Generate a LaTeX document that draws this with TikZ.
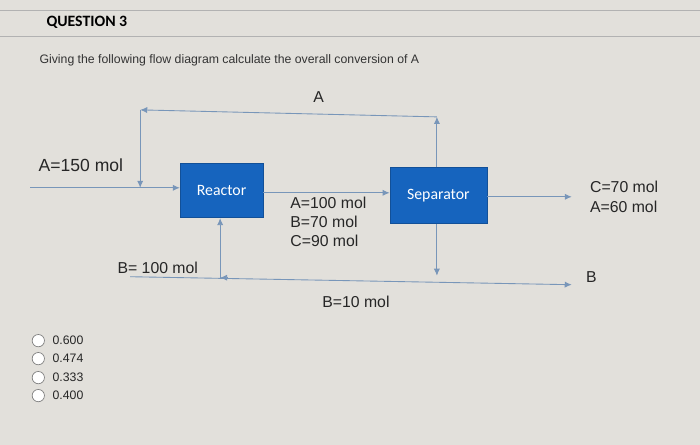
\documentclass[tikz,border=0pt]{standalone}
\usepackage{fontspec}
\setmainfont{Liberation Sans}
\newfontfamily\carlito{Carlito}
\usetikzlibrary{arrows.meta}
\definecolor{bg}{RGB}{226,224,219}
\definecolor{boxc}{RGB}{22,100,190}
\definecolor{linec}{RGB}{120,150,185}
\begin{document}
\begin{tikzpicture}[x=0.02cm,y=-0.02cm,
  flow/.style={draw=linec,line width=0.5pt,-{Latex[length=4pt,width=3.5pt]}},
  unit/.style={fill=boxc,draw=boxc!80!black,text=white,font=\carlito\small,inner sep=0},
  lbl/.style={font=\small,text=black!85,align=left,anchor=west,inner sep=0},
  opt/.style={circle,draw=gray,fill=white,minimum size=7pt,inner sep=0}]
\fill[bg] (0,0) rectangle (700,445);
\draw[gray!60] (0,10) -- (700,10);
\draw[gray!60] (0,36) -- (700,36);
\node[anchor=west,font=\carlito\bfseries\small] (q) at (40,22) {QUESTION 3};
\node[anchor=west,font=\scriptsize,text=black!80] (t) at (33,60) {Giving the following flow diagram calculate the overall conversion of A};
\node[unit,minimum width=1.66cm,minimum height=1.08cm] (r) at (221.5,191) {Reactor};
\node[unit,minimum width=1.94cm,minimum height=1.12cm] (s) at (438.5,196) {Separator};
\coordinate (f0) at (30,188);
\coordinate (c1) at (140,110);
\coordinate (c2) at (437,117);
\coordinate (d1) at (140,188);
\coordinate (sb) at (437,276);
\coordinate (b0) at (130,277);
\coordinate (bj) at (220,278);
\coordinate (bj2) at (228,278);
\coordinate (bend) at (572,285);
\coordinate (oend) at (572,197);
\draw[flow] (f0) -- (r.west |- f0);
\draw[flow] (s.north -| c2) -- (c2);
\draw[flow] (c2) -- (c1);
\draw[flow] (c1) -- (d1);
\draw[flow] (r.east |- 0,193) -- (s.west |- 0,193);
\draw[flow] (s.east |- oend) -- (oend);
\draw[flow] (s.south -| sb) -- (sb);
\draw[flow] (b0) -- (bend);
\draw[flow] (bj) -- (r.south -| bj);
\draw[flow] (bj2) -- (bj);
\node[lbl] (la) at (313,97) {A};
\node[lbl,font=\normalsize] (lf) at (38,165) {A=150 mol};
\node[lbl] (lm) at (290,222) {A=100 mol\\B=70 mol\\C=90 mol};
\node[lbl] (lo) at (590,197) {C=70 mol\\A=60 mol};
\node[lbl] (lb1) at (117,268) {B= 100 mol};
\node[lbl] (lb2) at (322,302) {B=10 mol};
\node[lbl] (lb) at (586,277) {B};
\foreach \y/\v in {341/0.600,359/0.474,378/0.333,396/0.400}{
  \node[opt] (o\y) at (38,\y) {};
  \node[lbl,font=\scriptsize] (v\y) at (52,\y) {\v};
}
\end{tikzpicture}
\end{document}
